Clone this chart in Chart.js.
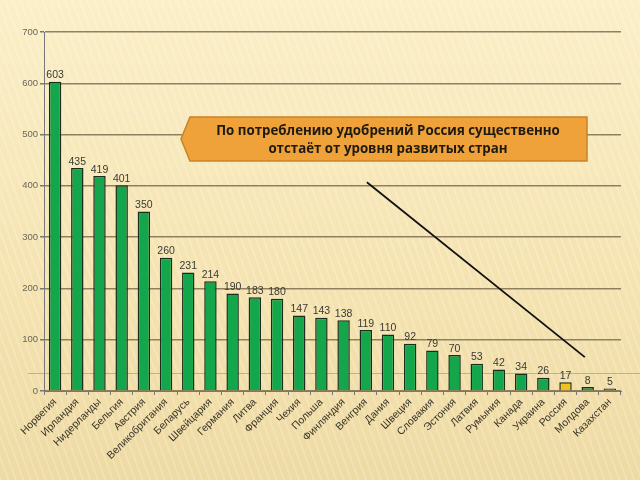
<!DOCTYPE html>
<html><head><meta charset="utf-8">
<script src="https://cdn.jsdelivr.net/npm/chart.js@4"></script>
<style>
html,body{margin:0;padding:0;}
body{width:640px;height:480px;overflow:hidden;position:relative;
background:
 repeating-linear-gradient(70deg, rgba(255,255,255,0.18) 0px, rgba(255,255,255,0.18) 2px, rgba(0,0,0,0) 2px, rgba(0,0,0,0) 7px),
 linear-gradient(180deg,#fbefc8 0%,#f6e5b4 50%,#eedaa3 100%);}
#wrap{position:absolute;left:0;top:0;width:640px;height:480px;}
#deco{position:absolute;left:28px;top:373px;width:612px;height:0;border-top:1px solid rgba(230,140,60,0.7);}
#callout{position:absolute;left:180px;top:116px;width:410px;height:46px;}
#callout .txt{position:absolute;left:8px;top:0;width:400px;height:46px;display:flex;align-items:center;justify-content:center;text-align:center;
font-family:"Open Sans","DejaVu Sans",sans-serif;font-weight:bold;font-size:13.3px;line-height:18px;color:#1e1a10;}
</style></head>
<body>
<div id="deco"></div>
<div id="wrap"><canvas id="c" width="640" height="480"></canvas></div>
<div id="callout">
<svg width="410" height="46" style="position:absolute;left:0;top:0">
<polygon points="1,23 10,1 407,1 407,45 10,45" fill="#efa23a" stroke="#c9822a" stroke-width="1.5"/>
</svg>
<div class="txt">По потреблению удобрений Россия существенно<br>отстаёт от уровня развитых стран</div>
</div>
<script>
const countries = ["Норвегия","Ирландия","Нидерланды","Бельгия","Австрия","Великобритания","Беларусь","Швейцария","Германия","Литва","Франция","Чехия","Польша","Финляндия","Венгрия","Дания","Швеция","Словакия","Эстония","Латвия","Румыния","Канада","Украина","Россия","Молдова","Казахстан"];
const consumption = [603,435,419,401,350,260,231,214,190,183,180,147,143,138,119,110,92,79,70,53,42,34,26,17,8,5];
const highlight = "Россия";
const trendLine = [{x:14.05,y:407},{x:23.87,y:66}];

const fills = countries.map(c => c === highlight ? "#f2c21c" : (c === "Казахстан" ? "#2f6a45" : "#13a64b"));

const valueLabels = {
  id:'valueLabels',
  afterDatasetsDraw(chart){
    const ctx = chart.ctx;
    const meta = chart.getDatasetMeta(0);
    ctx.save();
    ctx.font = '10.5px "Liberation Sans", Arial, sans-serif';
    ctx.fillStyle = '#3a3a34';
    ctx.textAlign = 'center';
    ctx.textBaseline = 'bottom';
    meta.data.forEach((bar,i)=>{
      ctx.fillText(String(consumption[i]), bar.x, bar.y - 1);
    });
    ctx.restore();
  }
};
const trend = {
  id:'trend',
  afterDatasetsDraw(chart){
    const {ctx, scales:{x,y}} = chart;
    ctx.save();
    ctx.strokeStyle = '#111';
    ctx.lineWidth = 1.8;
    ctx.beginPath();
    trendLine.forEach((p,i)=>{
      const px = x.getPixelForValue(p.x), py = y.getPixelForValue(p.y);
      if(i===0) ctx.moveTo(px,py); else ctx.lineTo(px,py);
    });
    ctx.stroke();
    ctx.restore();
  }
};

new Chart(document.getElementById('c'),{
  type:'bar',
  data:{labels:countries,datasets:[{data:consumption,backgroundColor:fills,borderColor:"#1b2e1e",borderWidth:1.5,barPercentage:0.56,categoryPercentage:1}]},
  options:{
    responsive:false,animation:false,
    layout:{padding:{left:0,right:19,top:32,bottom:0}},
    plugins:{legend:{display:false},tooltip:{enabled:false}},
    scales:{
      y:{min:0,max:700,
        ticks:{stepSize:100,font:{size:9.5,family:'"Liberation Sans", Arial, sans-serif'},color:'#6a6658',padding:2},
        grid:{color:'#8f8160',lineWidth:1.5,tickLength:4,tickColor:'#777'},
        border:{color:'#777',width:1},
        afterFit(s){s.width=44;}
      },
      x:{
        ticks:{maxRotation:45,minRotation:45,autoSkip:false,font:{size:10.5,family:'"Liberation Sans", Arial, sans-serif'},color:'#3a3528',padding:1},
        grid:{display:true,drawOnChartArea:false,tickLength:4,tickColor:'#777',offset:true},
        border:{color:'#777',width:1},
        afterFit(s){s.height=89;}
      }
    }
  },
  plugins:[valueLabels,trend]
});
</script>
</body></html>
